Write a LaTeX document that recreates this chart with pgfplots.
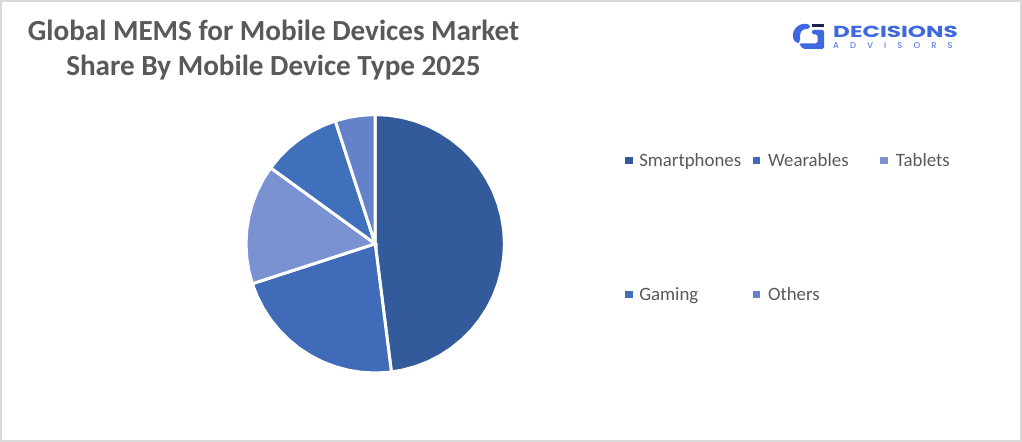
\documentclass[border=0pt]{standalone}
\usepackage{pgfplots}
\usepackage{graphicx}
\pgfplotsset{compat=1.18}
\usepgfplotslibrary{polar}
\usepackage{fontspec}
\setmainfont{Carlito}
\newfontfamily\logofont{Poppins}
\definecolor{cA}{HTML}{335A9A}
\definecolor{cB}{HTML}{3F6BB8}
\definecolor{cC}{HTML}{7B92D2}
\definecolor{cD}{HTML}{4070BC}
\definecolor{cE}{HTML}{6382C9}
\definecolor{txt}{HTML}{595959}
\definecolor{logo}{HTML}{3F68E0}
\definecolor{frame}{HTML}{D9D9D9}
\begin{document}
\begin{tikzpicture}[x=1bp,y=1bp]
\path[use as bounding box] (0,0) rectangle (1022,442);
\fill[white] (0,0) rectangle (1022,442);
\draw[frame,line width=2bp] (1,1) rectangle (1021,441);
\node[anchor=north,align=center,text=txt,inner sep=0pt,font=\fontsize{29.25}{35.5}\selectfont\bfseries] at (273.5,422.5) {Global MEMS for Mobile Devices Market\\Share By Mobile Device Type 2025};
% logo
\fill[logo,rounded corners=3bp] (810,418) -- (800,418) -- (793,411) -- (793,402) -- (797,399) -- (800,399) -- (800,409) -- (803,413) -- (810,413) -- cycle;
\fill[logo,rounded corners=1.5bp] (812,412) -- (824,412) -- (824,393) -- (803,393) -- (799,398.5) -- (817.5,398.5) -- (817.5,407.5) -- (812,407.5) -- cycle;
\fill[black!65!logo] (812,414.7) rectangle (824,418);
\node[anchor=base west,inner sep=0pt,text=logo,font=\logofont\fontsize{16}{16}\selectfont\bfseries] at (833,404) {\scalebox{1.45}[1]{DECISIONS}};
\node[anchor=base west,inner sep=0pt,text=logo,font=\logofont\fontsize{8.5}{9}\selectfont] at (833,393) {\addfontfeature{LetterSpace=132}ADVISORS};
\begin{polaraxis}[
  at={(375.2,198.2)},anchor=center,
  width=258bp,height=258bp,scale only axis,
  xmin=0,xmax=360,ymin=0,ymax=129,
  axis lines=none,clip=false,
  xtick=\empty,ytick=\empty,
  legend columns=3,
  legend cell align=left,
  legend image code/.code={\path[#1,draw=none] (0bp,-3.6bp) rectangle (7.5bp,3.6bp);},
  legend style={draw=none,fill=none,inner sep=0pt,outer sep=0pt,anchor=north west,
    at={(axis description cs:1.47,0.85)},row sep=119bp,
    font=\fontsize{18.9}{20}\selectfont,text=txt,
    nodes={inner xsep=3bp,inner ysep=0pt}},
]
\addplot[fill=cA,draw=white,line width=3bp] coordinates {(450,129.2)(444,129.2)(438,129.2)(432,129.2)(426,129.2)(420,129.2)(414,129.2)(408,129.2)(402,129.2)(396,129.2)(390,129.2)(384,129.2)(378,129.2)(372,129.2)(366,129.2)(360,129.2)(354,129.2)(348,129.2)(342,129.2)(336,129.2)(330,129.2)(324,129.2)(318,129.2)(312,129.2)(306,129.2)(300,129.2)(294,129.2)(288,129.2)(282,129.2)(277.2,129.2)(0,0)} -- cycle;
\addlegendentry{\makebox[114bp][l]{\hspace{3.3bp}Smartphones}}
\addplot[fill=cB,draw=white,line width=3bp] coordinates {(277.2,129.2)(276,129.2)(270,129.2)(264,129.2)(258,129.2)(252,129.2)(246,129.2)(240,129.2)(234,129.2)(228,129.2)(222,129.2)(216,129.2)(210,129.2)(204,129.2)(198,129.2)(0,0)} -- cycle;
\addlegendentry{\makebox[114bp][l]{\hspace{4.6bp}Wearables}}
\addplot[fill=cC,draw=white,line width=3bp] coordinates {(198,129.2)(192,129.2)(186,129.2)(180,129.2)(174,129.2)(168,129.2)(162,129.2)(156,129.2)(150,129.2)(144,129.2)(0,0)} -- cycle;
\addlegendentry{\makebox[60bp][l]{\hspace{5bp}Tablets}}
\addplot[fill=cD,draw=white,line width=3bp] coordinates {(144,129.2)(138,129.2)(132,129.2)(126,129.2)(120,129.2)(114,129.2)(108,129.2)(0,0)} -- cycle;
\addlegendentry{\makebox[114bp][l]{\hspace{3.3bp}Gaming}}
\addplot[fill=cE,draw=white,line width=3bp] coordinates {(108,129.2)(102,129.2)(96,129.2)(90,129.2)(0,0)} -- cycle;
\addlegendentry{\makebox[114bp][l]{\hspace{4.6bp}Others}}
\end{polaraxis}
\end{tikzpicture}
\end{document}
